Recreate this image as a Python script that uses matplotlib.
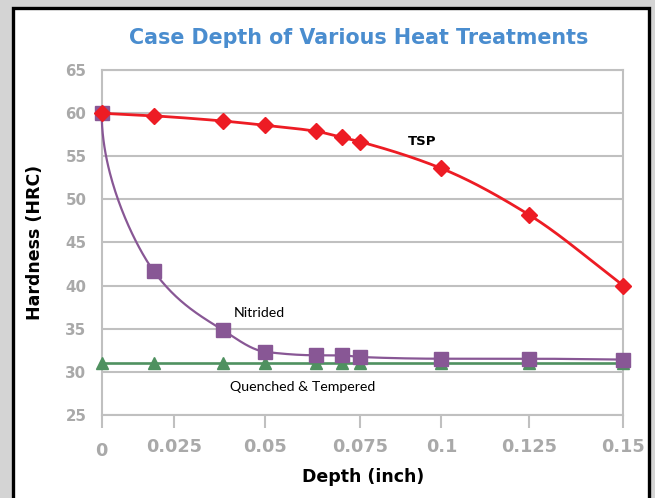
import numpy as np
import matplotlib
matplotlib.use("Agg")
import matplotlib.pyplot as plt
from matplotlib.patches import Rectangle
from matplotlib.transforms import ScaledTranslation

# ---------------- data ----------------
depth = [0.0, 0.018, 0.0385, 0.05, 0.0635, 0.0703, 0.075, 0.1, 0.125, 0.15]
tsp = [60.0, 59.7, 59.1, 58.6, 57.9, 57.2, 56.7, 53.6, 48.2, 40.0]
nitrided = [60.0, 41.7, 34.8, 32.3, 31.9, 31.9, 31.7, 31.5, 31.5, 31.4]
quenched = [31.0, 31.0, 31.0, 31.0, 31.0, 31.0, 31.0, 31.0, 31.0, 31.0]
x_ticks = [0.0, 0.025, 0.05, 0.075, 0.1, 0.125, 0.15]
x_tick_labels = ["0", "0.025", "0.05", "0.075", "0.1", "0.125", "0.15"]
y_ticks = [25, 30, 35, 40, 45, 50, 55, 60, 65]
title = "Case Depth of Various Heat Treatments"
xlabel = "Depth (inch)"
ylabel = "Hardness (HRC)"

# --------------- style ----------------
BFONT = "DejaVu Sans"
RFONT = "Lato"
RED = "#ed1c24"
PURPLE = "#885795"
GREEN = "#4f9160"
GRID = "#c0c0c0"
TICKC = "#a9a9a9"
TITLEC = "#4a8dcf"

# the reference's horizontal axis is not evenly spaced: tick positions (fraction of axis)
tick_frac = [0.0, 0.1380, 0.3137, 0.4947, 0.6512, 0.8196, 1.0]

def fwd(x):
    return np.interp(np.asarray(x, float), x_ticks, tick_frac)

def inv(u):
    return np.interp(np.asarray(u, float), tick_frac, x_ticks)

def pchip_slopes(u, y):
    u = np.asarray(u, float); y = np.asarray(y, float)
    h = np.diff(u); m = np.diff(y) / h
    n = len(u); d = np.zeros(n)
    for k in range(1, n - 1):
        if m[k - 1] * m[k] <= 0:
            d[k] = 0.0
        else:
            w1 = 2 * h[k] + h[k - 1]; w2 = h[k] + 2 * h[k - 1]
            d[k] = (w1 + w2) / (w1 / m[k - 1] + w2 / m[k])
    d[0] = m[0]
    d[-1] = m[-1]
    return d

def smooth(xs, ys, vertical_start=False, npts=60):
    u = fwd(xs); y = np.asarray(ys, float)
    d = pchip_slopes(u, y)
    out_u, out_y = [], []
    t = np.linspace(0, 1, npts)
    for i in range(len(u) - 1):
        h = u[i + 1] - u[i]
        p0 = np.array([u[i], y[i]]); p3 = np.array([u[i + 1], y[i + 1]])
        if i == 0 and vertical_start:
            p1 = p0 + np.array([0.0, 0.42 * (y[1] - y[0])])
        else:
            p1 = p0 + h / 3 * np.array([1.0, d[i]])
        p2 = p3 - h / 3 * np.array([1.0, d[i + 1]])
        b = ((1 - t) ** 3)[:, None] * p0 + (3 * (1 - t) ** 2 * t)[:, None] * p1 \
            + (3 * (1 - t) * t ** 2)[:, None] * p2 + (t ** 3)[:, None] * p3
        out_u.extend(b[:, 0]); out_y.extend(b[:, 1])
    return inv(out_u), np.array(out_y)

W, H = 655, 498
fig = plt.figure(figsize=(W / 100, H / 100), dpi=100, facecolor="#d4d4d4")
fig.patches.append(Rectangle((12.5 / W, -0.1), (649 - 12.5) / W, 1.1 - 8.5 / H,
                             transform=fig.transFigure, facecolor="white",
                             edgecolor="black", linewidth=2.4, zorder=-5))

ax = fig.add_axes([101.7 / W, 1 - 414.7 / H, (623.3 - 101.7) / W, (414.7 - 70.2) / H])
ax.set_zorder(2)
ax.set_facecolor("white")
ax.set_xscale("function", functions=(fwd, inv))
ax.set_xlim(0, 0.15)
ax.set_ylim(25, 65)

for s in ax.spines.values():
    s.set_color(GRID); s.set_linewidth(1.5)
ax.set_yticks(y_ticks)
ax.yaxis.grid(True, color=GRID, linewidth=1.5)
ax.set_axisbelow(True)
ax.tick_params(axis="y", length=0, pad=11, labelcolor=TICKC, labelsize=10.8)
ax.set_xticks(x_ticks)
ax.set_xticklabels(x_tick_labels)
ax.xaxis.set_minor_locator(matplotlib.ticker.NullLocator())
ax.tick_params(axis="x", direction="out", length=9, width=1.5, color=GRID,
               pad=8, labelcolor=TICKC, labelsize=12.8)
for lab in ax.get_xticklabels() + ax.get_yticklabels():
    lab.set_fontfamily(BFONT); lab.set_fontweight("bold")
zl = ax.get_xticklabels()[0]
zl.set_transform(zl.get_transform() + ScaledTranslation(0, -2.5 / 72, fig.dpi_scale_trans))

# lines
ax.plot(depth, quenched, color=GREEN, lw=1.9, zorder=3, clip_on=False)
ax.plot(depth, quenched, ls="none", marker="^", ms=8.3, color=GREEN, zorder=4, clip_on=False)

nx, ny = smooth(depth, nitrided, vertical_start=True)
ax.plot(nx, ny, color=PURPLE, lw=1.6, zorder=5, clip_on=False)
ax.plot(depth, nitrided, ls="none", marker="s", ms=10.3, color=PURPLE, zorder=6, clip_on=False)

tx, ty = smooth(depth, tsp)
ax.plot(tx, ty, color=RED, lw=2.0, zorder=7, clip_on=False)
ax.plot(depth, tsp, ls="none", marker="D", ms=8.4, color=RED, zorder=8, clip_on=False)

ax.text(0.614, 0.7925, "TSP", transform=ax.transAxes, ha="center", va="center",
        fontsize=9.5, fontweight="bold", family=BFONT, color="black")
ax.text(0.3025, 0.2943, "Nitrided", transform=ax.transAxes, ha="center", va="center",
        fontsize=10.2, family=RFONT, color="black")
ax.text(0.386, 0.0804, "Quenched & Tempered", transform=ax.transAxes, ha="center",
        va="center", fontsize=10.2, family=RFONT, color="black")

fig.text(359 / W, 1 - 38 / H, title, ha="center", va="center", fontsize=14.9,
         fontweight="bold", family=BFONT, color=TITLEC)
fig.text(363 / W, 1 - 476.7 / H, xlabel, ha="center", va="center", fontsize=12.5,
         fontweight="bold", family=BFONT, color="black")
fig.text(35 / W, 1 - 242.6 / H, ylabel, ha="center", va="center", fontsize=12.5,
         fontweight="bold", family=BFONT, color="black", rotation=90)

fig.savefig("out.png", dpi=100, facecolor=fig.get_facecolor())
